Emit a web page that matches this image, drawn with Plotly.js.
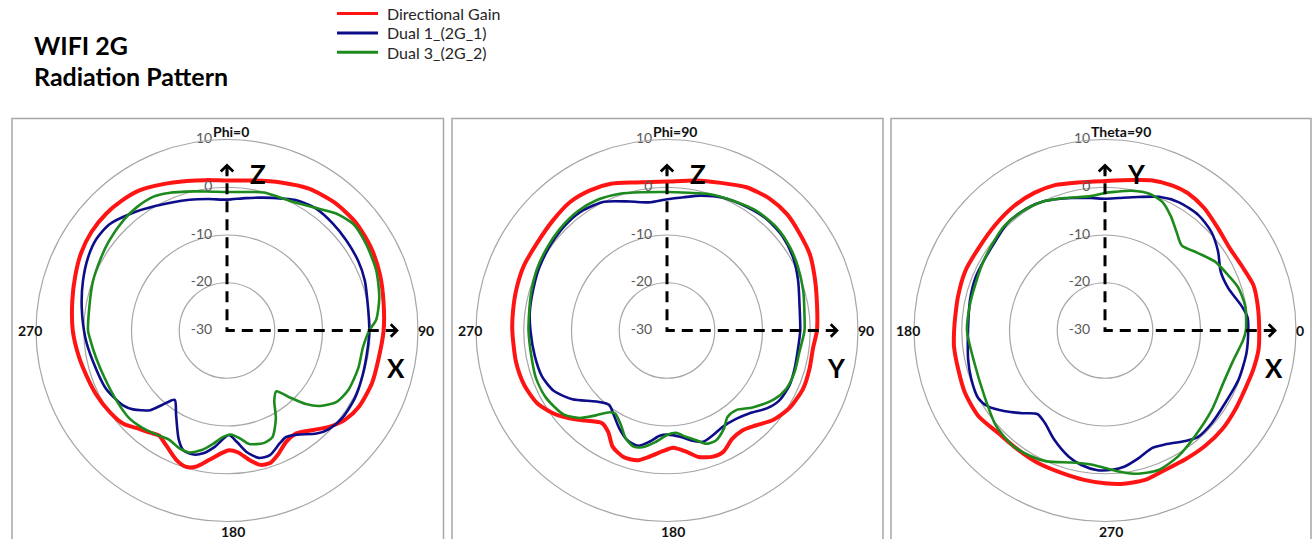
<!DOCTYPE html>
<html>
<head>
<meta charset="utf-8">
<script src="https://cdn.plot.ly/plotly-3.0.1.min.js"></script>
<style>
html,body{margin:0;padding:0;background:#ffffff;}
#chart{width:1312px;height:539px;}
</style>
</head>
<body>
<div id="chart"></div>
<script>
// ---------------- DATA ----------------
const seriesNames = ["Directional Gain", "Dual 1_(2G_1)", "Dual 3_(2G_2)"];
const panelTitles = ["Phi=0", "Phi=90", "Theta=90"];
const panelRightLabels = ["90", "90", "0"];
const panelBottomLabels = ["180", "180", "270"];
const panelLeftLabels = ["270", "270", "180"];
const radialTicks = [-30, -20, -10, 0, 10];
const radialTickText = ["-30", "-20", "-10", "0", "10"];

// Panel 1 : Phi=0 (angle clockwise from top)
const phi0GainAngle = [0,10,20,30,40,50,60,70,80,90,100,110,120,127,133,139,146,152,158,162,166,170,175,179,182,188,193,197,201,208,213,217,223,228,235,244,252,260,270,281,290,298,306,314,321,328,336,345,352,360];
const phi0GainDb    = [1.4,1.9,3.0,4.3,5.0,5.2,4.8,4.1,3.3,2.8,2.3,2.3,1.9,1.0,-0.5,-2.4,-4.0,-3.6,-1.8,-0.8,-1.0,-2.4,-4.4,-4.9,-4.4,-2.6,-0.7,-0.2,-0.8,-2.8,-3.8,-3.2,-2.1,-0.8,-0.1,0.5,0.9,1.5,2.3,3.0,3.8,4.6,5.1,5.2,5.0,4.6,3.5,2.4,1.8,1.4];
const phi0Dual1Angle = [0,8,15,23,28,36,45,53,62,70,79,90,97,108,118,127,134,139,146,151,155,161,166,171,175,179,186,191,195,200,204,211,217,221,224,230,234,244,257,267,279,289,298,305,312,320,330,344,352,360];
const phi0Dual1Db    = [-2.6,-2.0,-1.2,0.0,0.9,1.6,1.5,1.3,1.1,0.7,0.0,-0.2,-0.3,-0.1,0.3,0.3,-0.3,-1.4,-3.7,-4.5,-3.9,-2.4,-2.5,-4.3,-6.6,-8.1,-5.5,-3.8,-3.1,-3.3,-5.1,-9.3,-11.8,-9.4,-6.8,-4.3,-3.2,-1.9,-1.2,-0.3,0.8,1.9,2.9,3.4,3.2,1.8,0.1,-1.5,-2.2,-2.6];
const phi0Dual3Angle = [0,8,15,26,35,43,50,58,68,78,86,90,97,106,116,123,129,133,137,141,146,151,157,162,169,173,178,182,187,192,197,202,208,214,221,228,238,249,258,267,270,281,290,299,307,317,324,331,337,347,352,360];
const phi0Dual3Db    = [-1.0,-0.7,-0.1,0.2,1.5,3.5,4.6,4.3,3.7,2.6,1.3,-0.2,-1.3,-1.4,-1.7,-2.6,-4.9,-7.4,-10.9,-13.6,-12.3,-8.9,-5.7,-5.2,-5.8,-7.2,-8.2,-7.7,-6.1,-4.4,-3.3,-3.4,-4.1,-3.7,-3.0,-2.5,-2.6,-2.5,-2.0,-1.2,-0.9,-0.7,-0.1,0.4,1.0,1.7,2.0,2.0,1.3,-0.1,-0.6,-1.0];

// Panel 2 : Phi=90 (angle clockwise from top)
const phi90GainAngle = [0,11,20,29,38,46,54,62,70,80,90,97,105,113,122,130,137,143,149,155,160,166,171,177,182,188,193,199,205,210,215,222,228,234,241,249,258,270,277,285,294,304,314,323,331,339,348,360];
const phi90GainDb    = [1.2,2.0,2.9,4.3,5.0,5.0,4.4,3.9,2.9,1.9,1.4,0.8,0.9,1.0,0.4,-0.9,-2.8,-3.8,-3.5,-2.0,-1.9,-2.7,-4.3,-5.4,-4.7,-3.3,-2.1,-2.0,-3.1,-5.4,-6.3,-4.6,-2.5,-0.5,1.2,2.0,2.3,2.4,2.5,2.7,2.9,2.8,3.2,3.7,3.5,2.9,1.7,1.2];
const phi90Dual1Angle = [0,7,14,23,33,42,51,60,69,80,90,98,107,114,122,128,135,142,150,156,162,168,173,180,184,189,194,200,206,213,218,225,234,242,250,259,270,278,287,296,307,317,325,334,344,352,360];
const phi90Dual1Db    = [-2.5,-1.9,-0.9,0.2,0.8,1.3,1.2,0.5,-0.6,-1.8,-2.1,-2.3,-2.1,-1.9,-2.3,-3.5,-5.5,-6.5,-6.7,-6.1,-5.5,-6.5,-7.6,-8.2,-7.9,-6.4,-5.1,-5.6,-7.2,-9.3,-10.3,-9.0,-5.5,-3.1,-2.1,-1.8,-1.4,-1.0,-0.7,-0.2,0.3,0.7,0.7,0.0,-1.9,-2.9,-2.5];
const phi90Dual3Angle = [0,9,17,27,37,47,56,64,74,83,90,99,108,116,123,132,139,145,150,156,161,165,170,175,180,186,192,196,201,206,212,215,220,225,231,241,250,260,270,277,285,295,304,313,323,332,341,350,360];
const phi90Dual3Db    = [-1.0,-0.8,-0.1,0.5,1.3,1.5,1.1,0.5,-0.3,-1.0,-1.2,-1.9,-1.9,-2.2,-3.4,-5.9,-7.9,-7.9,-6.2,-4.8,-4.9,-6.2,-7.4,-8.5,-8.1,-6.5,-5.0,-4.7,-5.8,-8.0,-9.5,-9.1,-6.8,-4.1,-2.1,-1.0,-0.8,-1.1,-1.0,-0.9,-0.5,0.1,0.5,0.9,1.2,1.0,0.3,-0.6,-1.0];

// Panel 3 : Theta=90 (angle counter-clockwise from right)
const theta90GainAngle = [0,9,17,25,33,42,51,59,65,73,80,90,100,109,117,126,136,147,157,167,175,180,186,195,204,214,224,234,243,253,262,270,276,285,293,302,311,320,329,337,345,353,360];
const theta90GainDb    = [2.3,2.4,2.5,1.7,1.3,1.9,3.0,3.6,3.5,2.9,2.0,1.3,1.5,2.2,2.4,2.3,1.9,1.6,1.8,1.6,1.5,1.6,1.8,1.8,2.1,2.0,1.0,0.9,1.1,1.2,1.6,2.0,2.3,2.4,1.8,1.8,2.0,2.1,1.9,1.8,2.1,2.4,2.3];
const theta90Dual1Angle = [0,5,10,19,27,35,43,51,60,68,76,84,90,96,104,115,123,132,141,149,158,167,175,184,192,200,208,213,219,225,231,237,245,254,260,267,273,278,285,292,298,306,311,319,329,340,351,360];
const theta90Dual1Db    = [0.0,0.0,-0.9,-2.7,-2.8,-1.1,0.4,1.1,1.0,0.2,-1.2,-2.1,-2.4,-2.1,-1.4,-0.1,0.4,0.4,-0.4,-0.7,-0.7,-1.0,-1.3,-1.2,-0.7,-0.2,0.1,-0.8,-3.1,-5.5,-7.5,-6.9,-4.8,-2.5,-1.4,-0.7,-0.8,-1.2,-2.4,-3.5,-3.0,-1.4,-0.4,-0.4,-0.6,-0.2,0.0,0.0];
const theta90Dual3Angle = [0,10,18,24,32,40,48,54,60,66,72,79,86,90,96,107,116,125,134,143,152,161,169,180,193,208,221,231,239,246,256,264,270,277,283,291,300,310,323,336,347,356,360];
const theta90Dual3Db    = [-0.5,-0.2,-0.7,-1.7,-2.8,-4.7,-6.0,-4.5,-2.4,-0.5,0.1,-0.2,-0.9,-1.2,-1.7,-1.0,0.0,0.4,0.4,-0.3,-0.8,-1.2,-1.2,-1.1,-1.8,-1.3,0.3,0.9,0.6,0.0,-1.5,-1.8,-1.2,-0.1,0.8,1.3,0.5,-0.9,-2.1,-2.9,-2.4,-1.0,-0.5];

// ---------------- STYLE / LAYOUT CONSTANTS ----------------
const W = 1312, H = 539;
const R = 191;                 // polar radius (px)
const CY = 330.5;              // polar centre y (px)
const CX = [227, 667, 1105];   // polar centre x (px)
const seriesColors = ["#ff1414", "#0d0d8a", "#1d8a1d"];
const seriesWidths = [4, 2.6, 2.6];
const gridColor = "#a6a6a6";
const arrowUpDb = 5, arrowRightDb = 6;
const labelFont = {family: "Lato", size: 14, color: "#111111", weight: "bold"};
const letterFont = {family: "Lato", size: 26, color: "#000000", weight: "bold"};

function px(x) { return x / W; }
function py(y) { return 1 - y / H; }

const panels = [
  { rotation: 90, direction: "clockwise", up: 0, right: 90, vLetter: "Z", hLetter: "X",
    series: [[phi0GainAngle, phi0GainDb], [phi0Dual1Angle, phi0Dual1Db], [phi0Dual3Angle, phi0Dual3Db]] },
  { rotation: 90, direction: "clockwise", up: 0, right: 90, vLetter: "Z", hLetter: "Y",
    series: [[phi90GainAngle, phi90GainDb], [phi90Dual1Angle, phi90Dual1Db], [phi90Dual3Angle, phi90Dual3Db]] },
  { rotation: 0, direction: "counterclockwise", up: 90, right: 0, vLetter: "Y", hLetter: "X",
    series: [[theta90GainAngle, theta90GainDb], [theta90Dual1Angle, theta90Dual1Db], [theta90Dual3Angle, theta90Dual3Db]] }
];

const traces = [];
const annotations = [];
const shapes = [];
const layout = {
  width: W, height: H,
  margin: {l: 0, r: 0, t: 0, b: 0},
  paper_bgcolor: "#ffffff",
  showlegend: false,
  font: {family: "Lato, 'Open Sans', sans-serif"}
};

function note(x, y, text, font, xanchor) {
  annotations.push({x: px(x), y: py(y), xref: "paper", yref: "paper", text: text, showarrow: false,
    xanchor: xanchor || "center", yanchor: "middle", align: xanchor || "center", font: font, borderpad: 0});
}

panels.forEach((p, i) => {
  const sub = i === 0 ? "polar" : "polar" + (i + 1);
  const cx = CX[i];
  // data curves
  p.series.forEach((s, k) => {
    traces.push({
      type: "scatterpolar", subplot: sub, theta: s[0], r: s[1], mode: "lines",
      name: seriesNames[k], showlegend: false, hoverinfo: "skip",
      line: {color: seriesColors[k], width: seriesWidths[k], shape: "spline", smoothing: 0.7}
    });
  });
  // dashed coordinate axes
  traces.push({
    type: "scatterpolar", subplot: sub, mode: "lines", showlegend: false, hoverinfo: "skip",
    r: [arrowUpDb - 0.4, -30, arrowRightDb - 0.4], theta: [p.up, p.up, p.right],
    line: {color: "#000000", width: 3, dash: "11px,7px"}, cliponaxis: false
  });
  // radial tick labels
  traces.push({
    type: "scatterpolar", subplot: sub, mode: "markers+text", showlegend: false, hoverinfo: "skip",
    r: radialTicks, theta: radialTicks.map(() => p.up), text: radialTickText,
    textposition: "middle left", cliponaxis: false,
    textfont: {family: "Lato", size: 14, color: "#595959"},
    marker: {size: 22, color: "rgba(0,0,0,0)"}
  });

  layout[sub] = {
    domain: {x: [px(cx - R), px(cx + R)], y: [py(CY + R), py(CY - R)]},
    bgcolor: "rgba(0,0,0,0)",
    radialaxis: {range: [-30, 10], tickvals: [-20, -10, 0, 10], showticklabels: false, ticks: "",
                 showline: false, gridcolor: gridColor, gridwidth: 1.2},
    angularaxis: {rotation: p.rotation, direction: p.direction, showticklabels: false,
                  ticks: "", showgrid: false, showline: true, linecolor: gridColor, linewidth: 1.2}
  };

  // angular labels and panel title (placed like the reference)
  note(cx - 15, CY - R - 8, panelTitles[i], labelFont, "left");
  note(cx + R - 1, CY, panelRightLabels[i], labelFont, "left");
  note(cx - R + 7, CY, panelLeftLabels[i], labelFont, "right");
  note(cx + 6, CY + R + 10, panelBottomLabels[i], labelFont, "center");

  // arrow heads (chevrons)
  const upTip = CY - (arrowUpDb + 30) / 40 * R;
  const rightTip = cx + (arrowRightDb + 30) / 40 * R;
  annotations.push({x: px(cx), y: py(upTip), xref: "paper", yref: "paper", text: "", showarrow: true,
    arrowhead: 4, arrowsize: 1, arrowwidth: 2.4, arrowcolor: "#000", ax: 0, ay: 12, standoff: 0});
  annotations.push({x: px(rightTip), y: py(CY), xref: "paper", yref: "paper", text: "", showarrow: true,
    arrowhead: 4, arrowsize: 1, arrowwidth: 2.4, arrowcolor: "#000", ax: -12, ay: 0, standoff: 0});
  // axis letters
  note(cx + 31, CY - 156, p.vLetter, letterFont);
  note(cx + 169, CY + 37.5, p.hLetter, letterFont);
});

// panel frames
[[12, 443.5], [452, 883], [891, 1311]].forEach(b => {
  shapes.push({type: "rect", xref: "paper", yref: "paper", x0: px(b[0]), x1: px(b[1]), y0: py(570), y1: py(118.5),
               line: {color: "#a6a6a6", width: 1.5}, fillcolor: "rgba(0,0,0,0)", layer: "below"});
});

// title
const titleFont = {family: "Lato", size: 25, color: "#000000", weight: "bold"};
note(33, 45, "WIFI 2G", titleFont, "left");
note(33, 76.5, "Radiation Pattern", titleFont, "left");

// legend (drawn by hand, rows kept just clear of each other)
const legendRowPitch = 19.4;
seriesNames.forEach((n, k) => {
  const y = 13.5 + k * legendRowPitch;
  shapes.push({type: "line", xref: "paper", yref: "paper", x0: px(337), x1: px(378), y0: py(y), y1: py(y),
               line: {color: seriesColors[k], width: 3}});
  note(386, y, n, {family: "Lato", size: 16, color: "#262626"}, "left");
});

layout.annotations = annotations;
layout.shapes = shapes;

Plotly.newPlot("chart", traces, layout, {staticPlot: true});
</script>
</body>
</html>
